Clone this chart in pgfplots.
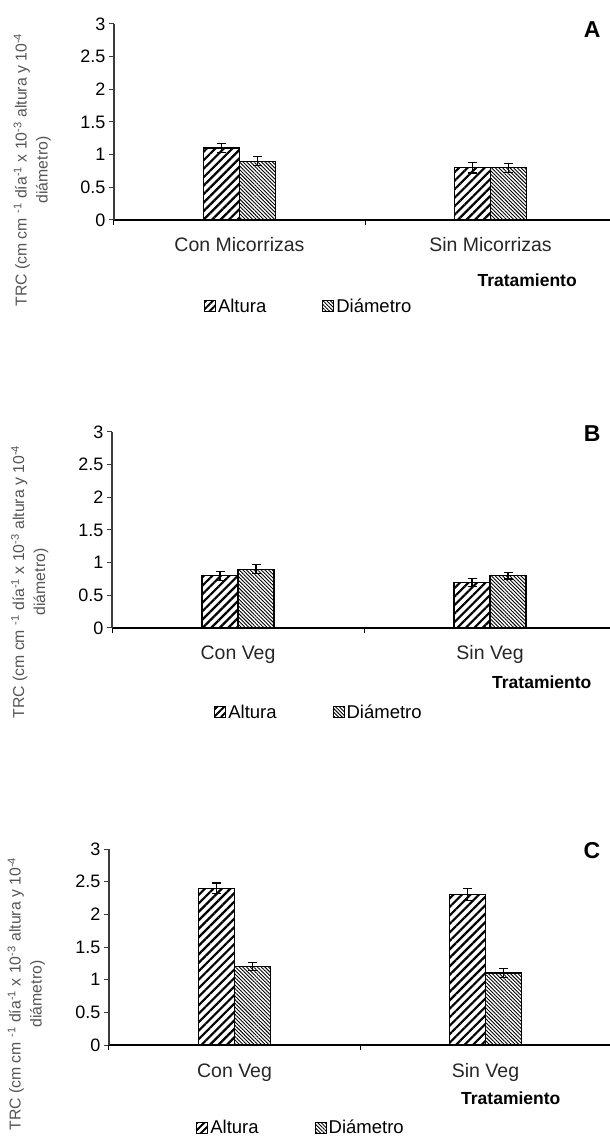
\documentclass[border=0pt]{standalone}
\usepackage{fontspec}
\setmainfont{Liberation Sans}
\usepackage{pgfplots}
\pgfplotsset{compat=1.18}
\usetikzlibrary{patterns,patterns.meta}
\definecolor{labgray}{RGB}{85,85,85}
\definecolor{axgray}{RGB}{60,60,60}

\pgfplotsset{
  trc/.style={
    scale only axis, height=196pt,
    ymin=0, ymax=3, ytick={0,0.5,1,1.5,2,2.5,3},
    yticklabels={0,0.5,1,1.5,2,2.5,3},
    axis x line*=bottom, axis y line*=left,
    x axis line style={-, line width=1.1pt, black},
    y axis line style={-, line width=1.1pt, axgray},
    tick align=outside, major tick length=5pt,
    ytick style={line width=1pt, axgray},
    xtick={0,1}, xtick style={draw=none},
    extra x ticks={-0.5,0.5,1.5}, extra x tick labels={},
    extra x tick style={xtick style={draw=black, line width=1pt}},
    ybar, bar width=36pt,
    /pgf/number format/assume math mode=true,
    yticklabel style={font=\fontsize{18}{18}\selectfont},
    xticklabel style={font=\fontsize{19.5}{19.5}\selectfont, text=black!85, anchor=base, yshift=-27pt},
    every axis y label/.style={rotate=90, anchor=center, align=center,
      font=\fontsize{15.8}{21}\selectfont, text=labgray},
    ylabel={TRC (cm cm \textsuperscript{-1} día\textsuperscript{-1} x 10\textsuperscript{-3} altura y 10\textsuperscript{-4}\\diámetro)},
    legend style={draw=none, fill=none, anchor=west, legend columns=2,
      font=\fontsize{18.5}{18.5}\selectfont,
      /tikz/every even column/.append style={column sep=54pt},
      /tikz/every odd column/.append style={column sep=0pt}},
    clip=false,
  },
  alt/.style={draw=black, line width=1.3pt,
    pattern={Lines[angle=45,distance=6pt,line width=2.2pt]},
    bar shift=-18pt,
    legend image code/.code={\draw[pattern={Lines[angle=45,distance=5pt,line width=2pt]}, line width=1pt] (0pt,-5.5pt) rectangle (11pt,5.5pt);},
    error bars/.cd, y dir=both, y explicit,
    error bar style={line width=1.1pt, black},
    error mark options={rotate=90, mark size=4.5pt, line width=1.1pt, black}},
  dia/.style={draw=black, line width=1.3pt,
    pattern={Lines[angle=-45,distance=2.6pt,line width=0.9pt]},
    bar shift=18pt,
    legend image code/.code={\draw[pattern={Lines[angle=-45,distance=2.6pt,line width=0.9pt]}, line width=1pt] (0pt,-5.5pt) rectangle (11pt,5.5pt);},
    error bars/.cd, y dir=both, y explicit,
    error bar style={line width=1.1pt, black},
    error mark options={rotate=90, mark size=4.5pt, line width=1.1pt, black}},
}

\begin{document}
\begin{tikzpicture}
\useasboundingbox (0pt,0pt) rectangle (610pt,1136pt);

% Panel A
\begin{axis}[trc, at={(114pt,916pt)}, anchor=south west,
  width=496pt, xmin=-0.5, xmax=1.476,
  xticklabels={Con Micorrizas, Sin Micorrizas},
  ylabel style={at={(rel axis cs:-0.165,0.255)}},
  legend style={at={(rel axis cs:0.175,-0.439)}}]
\addplot[alt] coordinates {(0,1.1) +- (0,0.07) (1,0.8) +- (0,0.08)};
\addplot[dia] coordinates {(0,0.9) +- (0,0.07) (1,0.8) +- (0,0.07)};
\legend{Altura\vphantom{Diá}, Diámetro}
\node[font=\bfseries\fontsize{17.5}{17.5}\selectfont] at (rel axis cs:0.833,-0.306) {Tratamiento};
\node[font=\bfseries\fontsize{23}{23}\selectfont] at (rel axis cs:0.964,0.97) {A};
\end{axis}

% Panel B
\begin{axis}[trc, at={(112pt,508pt)}, anchor=south west,
  width=498pt, xmin=-0.5, xmax=1.476,
  xticklabels={Con Veg, Sin Veg},
  ylabel style={at={(rel axis cs:-0.165,0.235)}},
  legend style={at={(rel axis cs:0.199,-0.429)}}]
\addplot[alt] coordinates {(0,0.8) +- (0,0.07) (1,0.7) +- (0,0.06)};
\addplot[dia] coordinates {(0,0.9) +- (0,0.07) (1,0.8) +- (0,0.05)};
\legend{Altura\vphantom{Diá}, Diámetro}
\node[font=\bfseries\fontsize{17.5}{17.5}\selectfont] at (rel axis cs:0.863,-0.276) {Tratamiento};
\node[font=\bfseries\fontsize{23}{23}\selectfont] at (rel axis cs:0.964,0.99) {B};
\end{axis}

% Panel C
\begin{axis}[trc, at={(109pt,91pt)}, anchor=south west,
  width=501pt, xmin=-0.5, xmax=1.496,
  xticklabels={Con Veg, Sin Veg},
  ylabel style={at={(rel axis cs:-0.165,0.26)}},
  legend style={at={(rel axis cs:0.168,-0.423)}}]
\addplot[alt] coordinates {(0,2.4) +- (0,0.08) (1,2.3) +- (0,0.09)};
\addplot[dia] coordinates {(0,1.2) +- (0,0.06) (1,1.1) +- (0,0.07)};
\legend{Altura\vphantom{Diá}, Diámetro}
\node[font=\bfseries\fontsize{17.5}{17.5}\selectfont] at (rel axis cs:0.802,-0.270) {Tratamiento};
\node[font=\bfseries\fontsize{23}{23}\selectfont] at (rel axis cs:0.964,0.99) {C};
\end{axis}
\end{tikzpicture}
\end{document}
